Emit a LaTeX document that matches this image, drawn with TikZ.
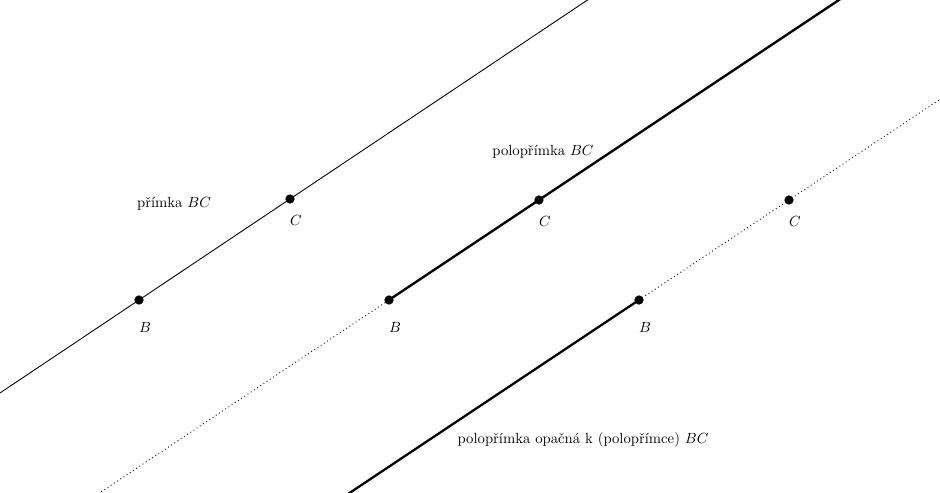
\documentclass[tikz,border=0pt]{standalone}
\usetikzlibrary{calc}
\begin{document}
\begin{tikzpicture}[x=0.68pt,y=-0.68pt,
  thinline/.style={line width=0.6pt},
  thickline/.style={line width=1.6pt},
  dotline/.style={line width=0.6pt,dotted},
  pt/.style={circle,fill=black,inner sep=0pt,minimum size=6.3pt},
  lbl/.style={inner sep=1pt}]
\useasboundingbox (0,0) rectangle (940,493);
\clip (0,0) rectangle (940,493);
% line 1
\coordinate (B1) at (139,300);
\coordinate (C1) at (290,199);
\draw[thinline] ($(B1)!-2!(C1)$) -- ($(B1)!4!(C1)$);
% line 2
\coordinate (B2) at (389,300);
\coordinate (C2) at (539,200);
\draw[dotline] ($(B2)!-3!(C2)$) -- (B2);
\draw[thickline] (B2) -- ($(B2)!4!(C2)$);
% line 3
\coordinate (B3) at (639,300);
\coordinate (C3) at (789,200);
\draw[dotline] (B3) -- ($(B3)!4!(C3)$);
\draw[thickline] ($(B3)!-3!(C3)$) -- (B3);
% points
\foreach \i in {1,2,3}{
  \node[pt] (pB\i) at (B\i) {};
  \node[pt] (pC\i) at (C\i) {};
  \node[lbl] (lB\i) at ($(B\i)+(6,27)$) {$B$};
  \node[lbl] (lC\i) at ($(C\i)+(6,21)$) {$C$};
}
\node[lbl] (t1) at (174,204) {přímka $BC$};
\node[lbl] (t2) at (543,152) {polopřímka $BC$};
\node[lbl] (t3) at (583,440) {polopřímka opačná k (polopřímce) $BC$};
\end{tikzpicture}
\end{document}
